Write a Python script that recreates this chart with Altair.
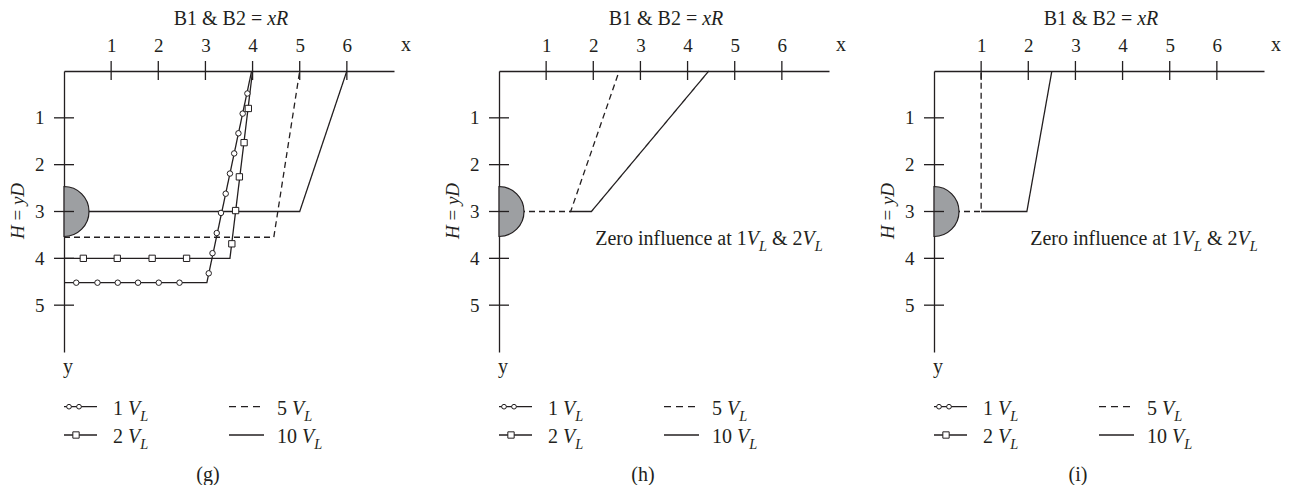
import math
import altair as alt
import pandas as pd

FONT = "Liberation Serif"
INK = "#231f20"
GREY = "#9d9fa2"

# ---------------- data ----------------
x_ticks = [1, 2, 3, 4, 5, 6]
y_ticks = [1, 2, 3, 4, 5]
x_domain = [0, 7]
y_domain = [0, 6]
pipe_x = [0]
pipe_y = [3]

# panel (g)
g_10_x = [0, 5.0, 6.0]
g_10_y = [3.0, 3.0, 0.0]
g_5_x = [0, 4.45, 5.0]
g_5_y = [3.55, 3.55, 0.0]
g_2_x = [0, 3.52, 4.0]
g_2_y = [4.0, 4.0, 0.0]
g_1_x = [0, 3.03, 3.98]
g_1_y = [4.52, 4.52, 0.0]
g_2_mx = [0.41, 1.13, 1.87, 2.60, 3.56, 3.64, 3.72, 3.82, 3.91]
g_2_my = [4.0, 4.0, 4.0, 4.0, 3.69, 2.98, 2.26, 1.53, 0.80]
g_1_mx = [0.26, 0.71, 1.14, 1.57, 2.01, 2.45, 3.07, 3.15, 3.24, 3.33, 3.43, 3.52, 3.61, 3.70, 3.79, 3.89]
g_1_my = [4.52, 4.52, 4.52, 4.52, 4.52, 4.52, 4.32, 3.89, 3.46, 3.03, 2.62, 2.19, 1.76, 1.33, 0.91, 0.48]

# panel (h)
h_10_x = [1.5, 1.96, 4.45]
h_10_y = [3.0, 3.0, 0.0]
h_5_x = [0, 1.52, 2.55]
h_5_y = [3.0, 3.0, 0.0]

# panel (i)
i_10_x = [1.0, 1.97, 2.5]
i_10_y = [3.0, 3.0, 0.0]
i_5_x = [0, 1.0, 1.0]
i_5_y = [3.0, 3.0, 0.0]

# ---------------- helpers ----------------
W, H = 330, 281
ONE = pd.DataFrame({"d": [0]})
TS = 20  # text size

REG = {' ': 250, '&': 778, '(': 333, ')': 333, '=': 564, 'B': 667, 'Z': 611,
       'a': 444, 'c': 444, 'e': 444, 'f': 333, 'g': 500, 'h': 500, 'i': 278,
       'l': 278, 'n': 500, 'o': 500, 'r': 333, 't': 278, 'u': 500, 'x': 500, 'y': 500}
ITA = {' ': 250, '=': 675, 'x': 444, 'R': 611, 'V': 611, 'L': 556, 'H': 722, 'y': 444, 'D': 722}


def twidth(s, italic, size):
    tab = ITA if italic else REG
    return sum(tab.get(c, 500) for c in s) * size / 1000.0


def rich(parts, x, y, size=TS, anchor="left", angle=0):
    sub = 0.72
    ws = []
    for t, st in parts:
        if st == "s":
            ws.append(twidth(t, True, size * sub))
        else:
            ws.append(twidth(t, st == "i", size))
    total = sum(ws)
    off = -total / 2 if anchor == "center" else 0
    out = []
    for (t, st), w in zip(parts, ws):
        fs = size * sub if st == "s" else size
        drop = size * 0.28 if st == "s" else 0
        lead = len(t) - len(t.lstrip(" "))
        lead_w = twidth(" " * lead, st != "n", fs)
        txt = t.strip(" ")
        o = off + lead_w
        if angle == 270:
            px, py = x + drop, y - o
        else:
            px, py = x + o, y + drop
        if txt:
            out.append(
                alt.Chart(ONE).mark_text(
                    text=txt, font=FONT, fontSize=fs,
                    fontStyle="italic" if st != "n" else "normal",
                    align="left", baseline="alphabetic", color=INK, angle=angle,
                ).encode(x=alt.value(px), y=alt.value(py))
            )
        off += w
    return out


def seg(x1, x2, y, dash=None):
    kw = dict(color=INK, strokeWidth=1.3)
    if dash:
        kw["strokeDash"] = dash
    return alt.Chart(ONE).mark_rule(**kw).encode(
        x=alt.value(x1), x2=alt.value(x2), y=alt.value(y))


def dot(x, y, shape, size):
    return alt.Chart(ONE).mark_point(
        shape=shape, filled=True, fill="white", stroke=INK, strokeWidth=1,
        size=size, opacity=1).encode(x=alt.value(x), y=alt.value(y))


def lines_df(items):
    rows = []
    for name, dash, xs_, ys_ in items:
        for k, (a, b) in enumerate(zip(xs_, ys_)):
            rows.append({"series": name, "dash": dash, "seq": k, "x": a, "y": b})
    return pd.DataFrame(rows)


def panel(items, circ, sq, letter, note):
    xs = alt.Scale(domain=x_domain, nice=False, zero=False)
    ys = alt.Scale(domain=y_domain, nice=False, zero=False, reverse=True)
    xaxis = alt.Axis(orient="top", values=x_ticks, ticks=False, grid=False,
                     domainColor=INK, domainWidth=1.3, labelFont=FONT,
                     labelFontSize=19, labelColor=INK, labelPadding=20,
                     labelBaseline="alphabetic", title=None)
    yaxis = alt.Axis(orient="left", values=y_ticks, ticks=False, grid=False,
                     domainColor=INK, domainWidth=1.3, labelFont=FONT,
                     labelFontSize=19, labelColor=INK, labelPadding=20, title=None)

    def X(f):
        return alt.X(f, scale=xs, axis=xaxis)

    def Y(f):
        return alt.Y(f, scale=ys, axis=yaxis)

    layers = []
    layers.append(
        alt.Chart(lines_df(items)).mark_line(strokeWidth=1.3, color=INK, clip=False).encode(
            x=X("x:Q"),
            y=Y("y:Q"),
            detail="series:N",
            order="seq:Q",
            strokeDash=alt.StrokeDash("dash:N", scale=alt.Scale(
                domain=["solid", "dashed"], range=[[1, 0], [6, 4]]), legend=None),
        )
    )
    layers.append(
        alt.Chart(pd.DataFrame({"x": pipe_x, "y": pipe_y})).mark_arc(
            radius=25, theta=0, theta2=math.pi, fill=GREY, stroke=INK, strokeWidth=1.2
        ).encode(x=X("x:Q"), y=Y("y:Q"))
    )
    layers.append(
        alt.Chart(pd.DataFrame({"t": x_ticks})).mark_rule(color=INK, strokeWidth=1.3).encode(
            x=X("t:Q"), y=alt.value(-10), y2=alt.value(9))
    )
    layers.append(
        alt.Chart(pd.DataFrame({"t": y_ticks})).mark_rule(color=INK, strokeWidth=1.3).encode(
            y=Y("t:Q"), x=alt.value(-10), x2=alt.value(10))
    )
    if circ is not None:
        layers.append(
            alt.Chart(pd.DataFrame({"x": circ[0], "y": circ[1]})).mark_point(
                shape="circle", filled=True, fill="white", stroke=INK, strokeWidth=1,
                size=30, opacity=1).encode(x=X("x:Q"), y=Y("y:Q"))
        )
    if sq is not None:
        layers.append(
            alt.Chart(pd.DataFrame({"x": sq[0], "y": sq[1]})).mark_point(
                shape="square", filled=True, fill="white", stroke=INK, strokeWidth=1,
                size=40, opacity=1).encode(x=X("x:Q"), y=Y("y:Q"))
        )
    # texts
    layers += rich([("B1 & B2 = ", "n"), ("xR", "i")], 167, -46.5, anchor="center")
    layers += rich([("x", "n")], 342, -20, anchor="center")
    layers += rich([("y", "n")], 4, 301.7, anchor="center")
    layers += rich([("H", "i"), (" = ", "n"), ("yD", "i")], -40, 140, size=19,
                   anchor="center", angle=270)
    if note:
        layers += rich([("Zero influence at 1", "n"), ("V", "i"), ("L", "s"),
                        (" & 2", "n"), ("V", "i"), ("L", "s")], 210, 174, anchor="center")
    # legend
    r1, r2 = 335.7, 364
    layers.append(seg(0, 33, r1))
    layers.append(dot(5, r1, "circle", 22))
    layers.append(dot(15, r1, "circle", 22))
    layers.append(seg(0, 33, r2))
    layers.append(dot(12, r2, "square", 40))
    layers.append(seg(165, 200, r1, [7, 5]))
    layers.append(seg(165, 200, r2))
    layers += rich([("1 ", "n"), ("V", "i"), ("L", "s")], 49, 344)
    layers += rich([("2 ", "n"), ("V", "i"), ("L", "s")], 49, 372)
    layers += rich([("5 ", "n"), ("V", "i"), ("L", "s")], 213, 344)
    layers += rich([("10 ", "n"), ("V", "i"), ("L", "s")], 213, 372)
    layers += rich([("(" + letter + ")", "n")], 144, 410, anchor="center")
    return alt.layer(*layers).properties(width=W, height=H)


pg = panel([("10", "solid", g_10_x, g_10_y), ("5", "dashed", g_5_x, g_5_y),
            ("2", "solid", g_2_x, g_2_y), ("1", "solid", g_1_x, g_1_y)],
           (g_1_mx, g_1_my), (g_2_mx, g_2_my), "g", False)
ph = panel([("10", "solid", h_10_x, h_10_y), ("5", "dashed", h_5_x, h_5_y)],
           None, None, "h", True)
pi_ = panel([("10", "solid", i_10_x, i_10_y), ("5", "dashed", i_5_x, i_5_y)],
            None, None, "i", True)

chart = alt.hconcat(pg, ph, pi_, spacing=105, bounds="flush").properties(
    padding={"left": 1, "top": 0, "right": 0, "bottom": 0}
).configure_view(stroke=None)

chart.save("out.html", embed_options={"renderer": "svg", "actions": False})
